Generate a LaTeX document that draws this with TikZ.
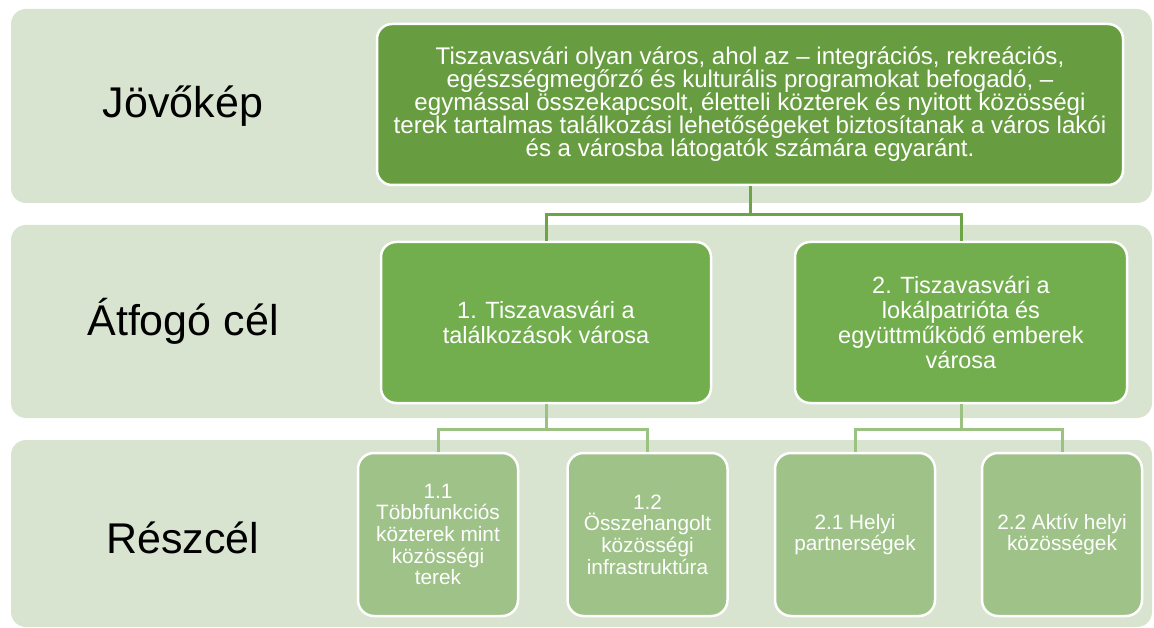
\documentclass[tikz,border=0pt]{standalone}
\usepackage{fontspec}
\setmainfont{Liberation Sans}
\usetikzlibrary{positioning,calc}
\definecolor{bandgreen}{RGB}{216,228,208}
\definecolor{visiongreen}{RGB}{103,157,64}
\definecolor{goalgreen}{RGB}{114,174,77}
\definecolor{subgreen}{RGB}{158,194,136}
\definecolor{toplink}{RGB}{108,164,70}
\definecolor{sublink}{RGB}{156,194,130}

\begin{document}
\begin{tikzpicture}[x=1pt,y=-1pt,
    band/.style={fill=bandgreen,rounded corners=15pt},
    level label/.style={anchor=base,font=\fontsize{43}{48}\selectfont},
    box/.style={draw=white,line width=2.5pt,rounded corners=15pt,text=white,align=center,inner sep=0pt},
    vision box/.style={box,fill=visiongreen,minimum width=746pt,minimum height=161pt,font=\fontsize{24.1}{23}\selectfont},
    goal box/.style={box,fill=goalgreen,minimum width=330pt,minimum height=161pt,font=\fontsize{23.5}{25}\selectfont},
    sub box/.style={box,fill=subgreen,rounded corners=16pt,minimum width=160pt,minimum height=163pt,font=\fontsize{20.8}{21.7}\selectfont},
    link/.style={line width=3pt,toplink},
    sub link/.style={line width=3pt,sublink}]
    \useasboundingbox (0,0) rectangle (1154,628);
%Bands
    \fill[band] (11,9) rectangle (1152,203);
    \fill[band] (11,225) rectangle (1152,418);
    \fill[band] (11,440) rectangle (1152,627);
    \node[level label] (visionlabel) at (183,118) {Jövőkép};
    \node[level label] (goallabel) at (183,335) {Átfogó cél};
    \node[level label] (sublabel) at (183,553) {Részcél};
%Nodes
    \node[vision box] (vision) at (750,104.5) {Tiszavasvári olyan város, ahol az – integrációs, rekreációs,\\
        egészségmegőrző és kulturális programokat befogadó, –\\
        egymással összekapcsolt, életteli közterek és nyitott közösségi\\
        terek tartalmas találkozási lehetőségeket biztosítanak a város lakói\\
        és a városba látogatók számára egyaránt.};
    \node[goal box] (goal1) at (546,322.5) {1. Tiszavasvári a\\találkozások városa};
    \node[goal box, minimum width=332pt] (goal2) at (961,322.5) {2. Tiszavasvári a\\lokálpatrióta és\\együttműködő emberek\\városa};
    \node[sub box] (sub11) at (438,534.5) {1.1\\Többfunkciós\\közterek mint\\közösségi\\terek};
    \node[sub box] (sub12) at (647.5,534.5) {1.2\\Összehangolt\\közösségi\\infrastruktúra};
    \node[sub box] (sub21) at (855,534.5) {2.1 Helyi\\partnerségek};
    \node[sub box] (sub22) at (1062,534.5) {2.2 Aktív helyi\\közösségek};
%Connectors
    \draw[link] (vision.south) -- ++(0,28) -| (goal1.north);
    \draw[link] (vision.south) -- ++(0,28) -| (goal2.north);
    \draw[sub link] (goal1.south) -- ++(0,25) -| (sub11.north);
    \draw[sub link] (goal1.south) -- ++(0,25) -| (sub12.north);
    \draw[sub link] (goal2.south) -- ++(0,25) -| (sub21.north);
    \draw[sub link] (goal2.south) -- ++(0,25) -| (sub22.north);
\end{tikzpicture}
\end{document}
